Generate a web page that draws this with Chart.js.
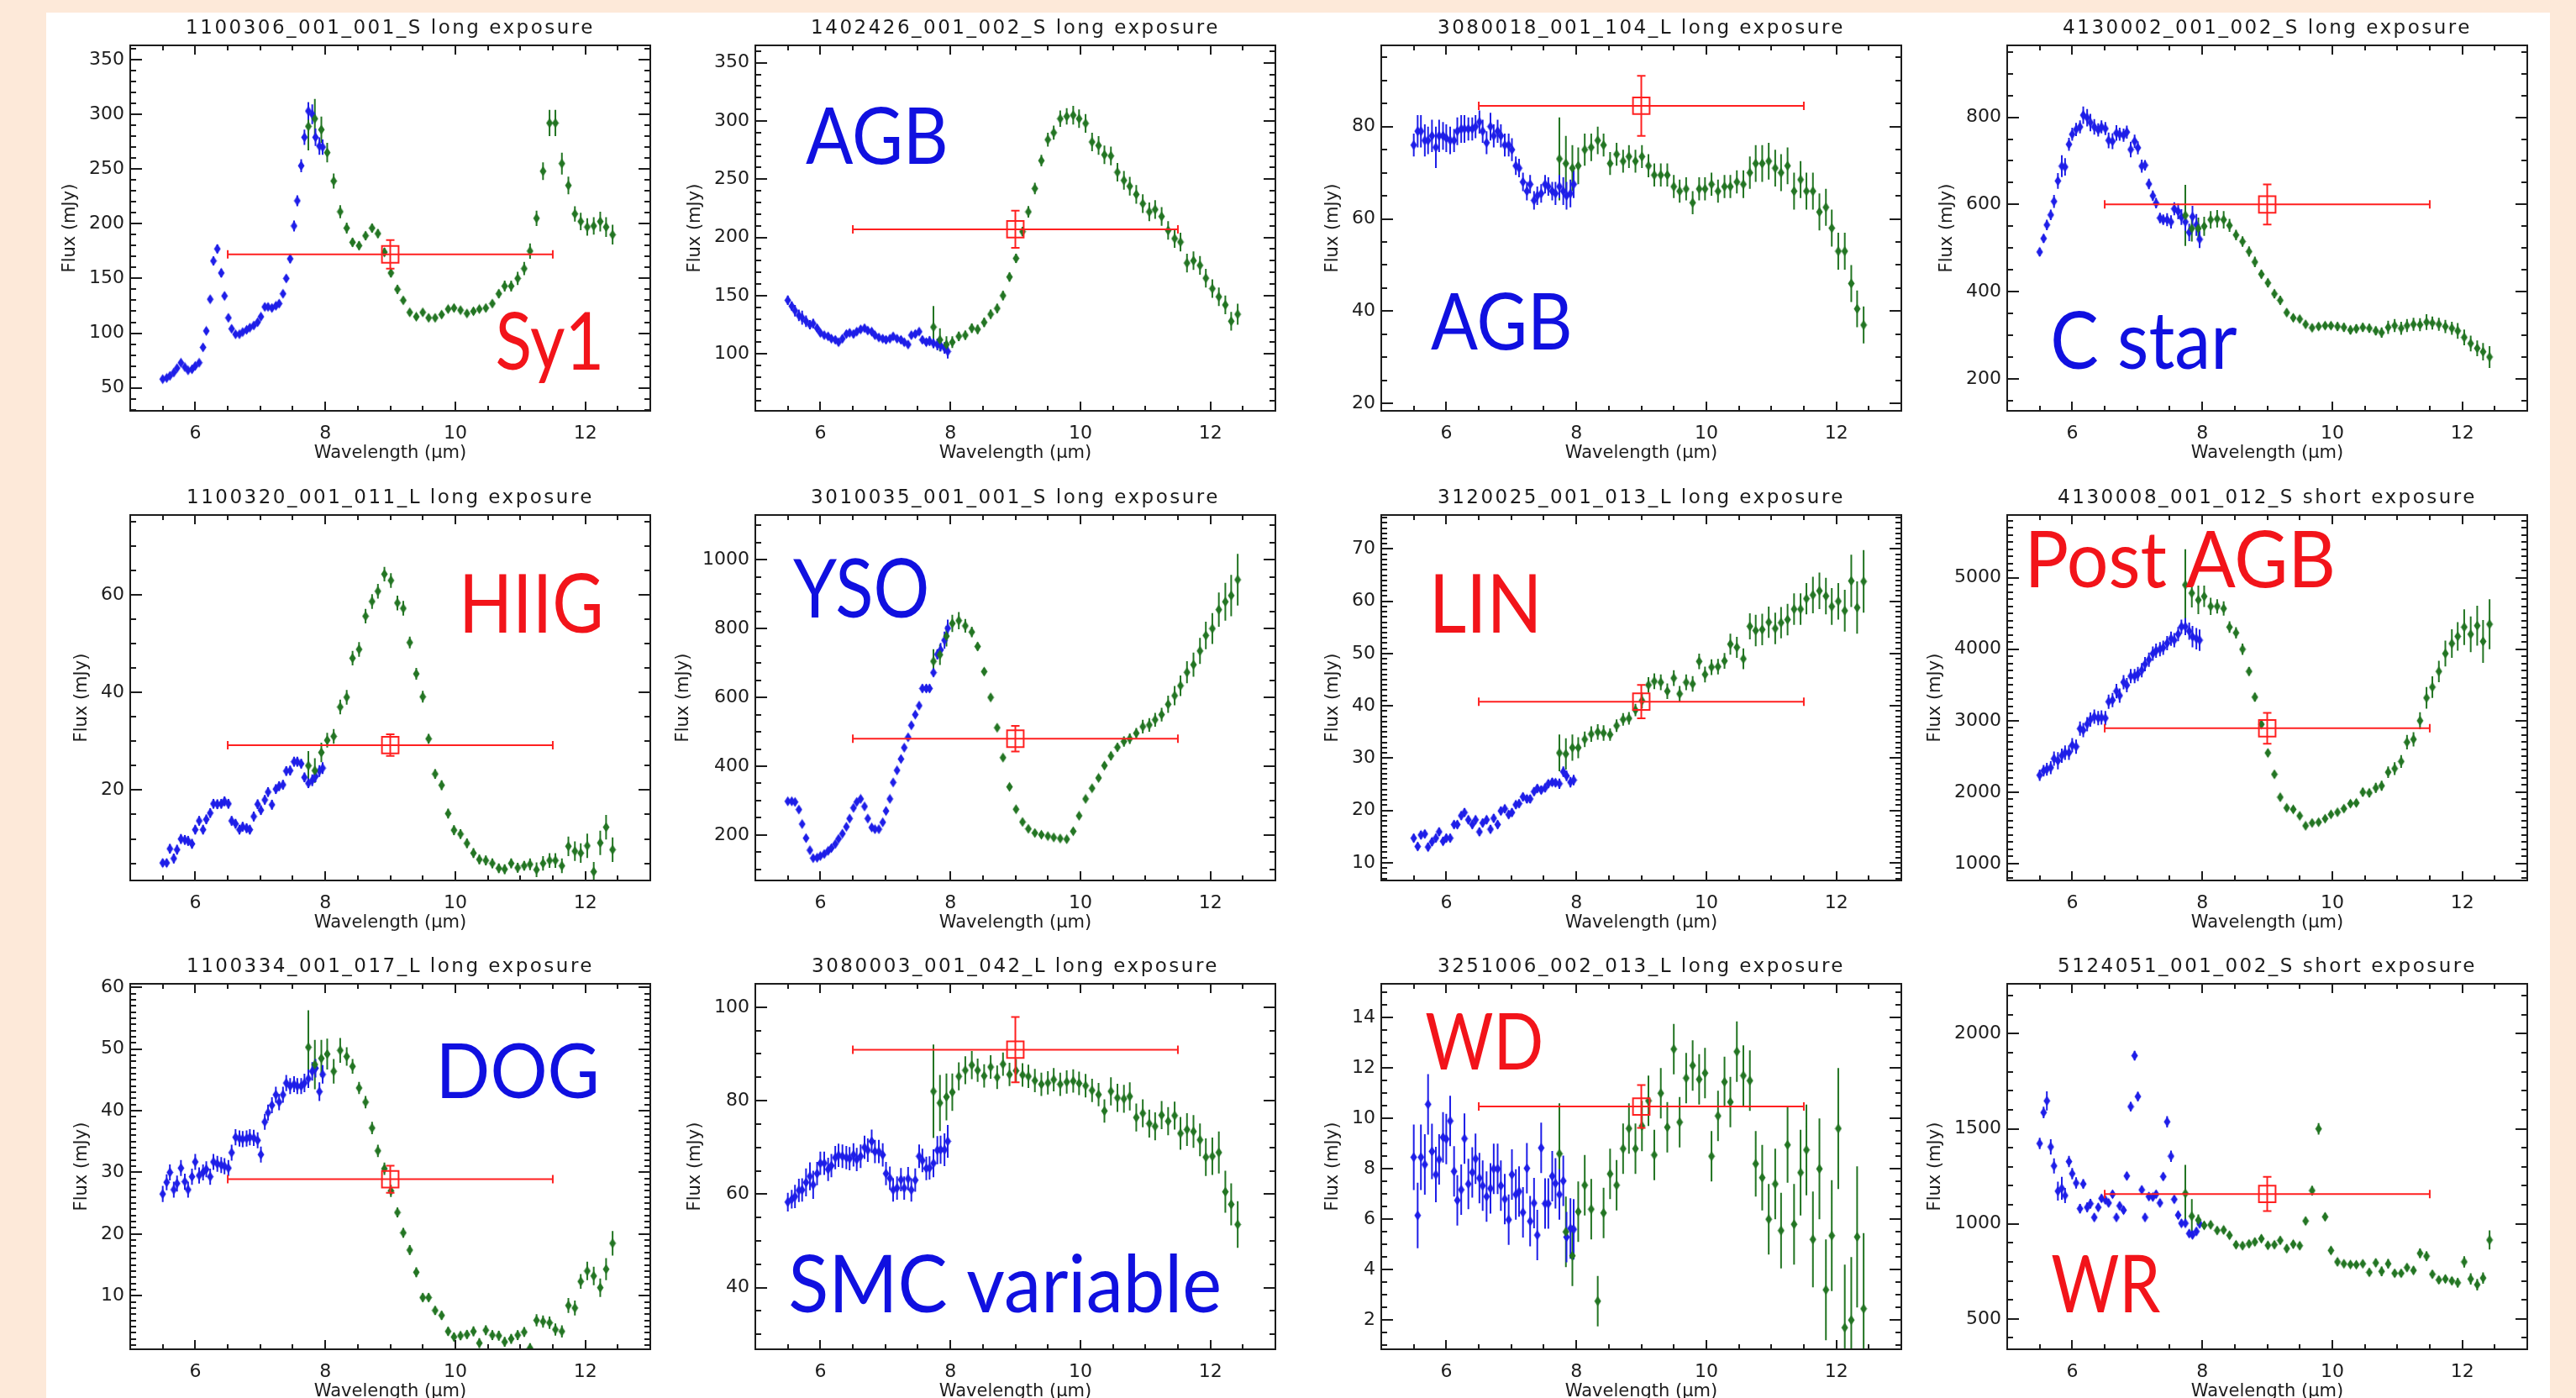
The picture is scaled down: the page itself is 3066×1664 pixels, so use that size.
<!DOCTYPE html>
<html>
<head>
<meta charset="utf-8">
<script src="https://cdn.jsdelivr.net/npm/chart.js@4.4.1/dist/chart.umd.min.js"></script>
<style>
  html, body { margin: 0; padding: 0; }
  body { width: 3066px; height: 1664px; overflow: hidden; background: #fde9d9; position: relative; }
  #sheet { position: absolute; left: 55px; top: 15px; width: 2980px; height: 1660px; background: #fff; }
  canvas { position: absolute; }
</style>
</head>
<body>
<div id="sheet"></div>
<script>
// wavelength sampling (um) of the two spectral segments
const blueX = [5.50, 5.56, 5.61, 5.67, 5.72, 5.78, 5.84, 5.89, 5.95, 6.00,
  6.06, 6.12, 6.17, 6.23, 6.28, 6.34, 6.40, 6.45, 6.51, 6.56,
  6.62, 6.68, 6.73, 6.79, 6.84, 6.90, 6.96, 7.01, 7.07, 7.12,
  7.18, 7.24, 7.29, 7.35, 7.40, 7.46, 7.52, 7.57, 7.63, 7.68,
  7.74, 7.80, 7.85, 7.91, 7.96];
const greenX = [7.74, 7.84, 7.94, 8.03, 8.13, 8.23, 8.33, 8.42, 8.52, 8.62,
  8.72, 8.81, 8.91, 9.01, 9.11, 9.20, 9.30, 9.40, 9.50, 9.59,
  9.69, 9.79, 9.89, 9.98, 10.08, 10.18, 10.28, 10.37, 10.47, 10.57,
  10.67, 10.76, 10.86, 10.96, 11.06, 11.15, 11.25, 11.35, 11.45, 11.54,
  11.64, 11.74, 11.84, 11.93, 12.03, 12.13, 12.23, 12.32, 12.42];
const xTicks = [6, 8, 10, 12];

// photometric point: band centre, band edges
const redX = 9, redXLo = 6.5, redXHi = 11.5;

const titles = [
  '1100306_001_001_S long exposure', '1402426_001_002_S long exposure',
  '3080018_001_104_L long exposure', '4130002_001_002_S long exposure',
  '1100320_001_011_L long exposure', '3010035_001_001_S long exposure',
  '3120025_001_013_L long exposure', '4130008_001_012_S short exposure',
  '1100334_001_017_L long exposure', '3080003_001_042_L long exposure',
  '3251006_002_013_L long exposure', '5124051_001_002_S short exposure'];
const kinds = ['Sy1', 'AGB', 'AGB', 'C star', 'HIIG', 'YSO', 'LIN', 'Post AGB', 'DOG', 'SMC variable', 'WD', 'WR'];
const kindIsRed = [true, false, false, false, true, false, true, true, false, false, true, true];

const redFlux = [172, 207, 84.5, 600, 29.2, 480, 40.8, 2895, 28.9, 90.9, 10.47, 1157];
const redErr = [13, 16, 6.5, 46, 2.2, 37, 3.2, 216, 2.2, 7, 0.85, 90];

const yMins = [29, 51, 18.4, 126.5, 1.5, 68, 6.6, 765, 1.3, 26.8, 0.84, 340];
const yMaxs = [363, 365, 97.6, 965, 76.3, 1130, 76.5, 5878, 60.6, 105, 15.34, 2263];
const yMinorSteps = [10, 10, 5, 50, 5, 50, 1, 100, 1, 5, 0.5, 100];

const yTicks1 = [50, 100, 150, 200, 250, 300, 350];
const yTicks2 = [100, 150, 200, 250, 300, 350];
const yTicks3 = [20, 40, 60, 80];
const yTicks4 = [200, 400, 600, 800];
const yTicks5 = [20, 40, 60];
const yTicks6 = [200, 400, 600, 800, 1000];
const yTicks7 = [10, 20, 30, 40, 50, 60, 70];
const yTicks8 = [1000, 2000, 3000, 4000, 5000];
const yTicks9 = [10, 20, 30, 40, 50, 60];
const yTicks10 = [40, 60, 80, 100];
const yTicks11 = [2, 4, 6, 8, 10, 12, 14];
const yTicks12 = [500, 1000, 1500, 2000];

// ---- Sy1
const blue1 = [58, 59, 61, 64, 68, 73, 69, 66, 67, 70, 73, 87, 102, 131, 166, 177, 155, 134, 114, 104,
  99, 99, 101, 103, 105, 107, 110, 115, 124, 124, 123, 125, 127, 136, 150, 168, 198, 221, 253, 279,
  303, 300, 279, 271, 270];
const blueErr1 = [2, 2, 2, 2, 2, 2, 2, 2, 2, 2, 2, 2, 3, 3, 4, 4, 4, 3, 3, 3,
  2, 2, 2, 2, 2, 2, 2, 2, 3, 3, 3, 3, 3, 3, 3, 4, 5, 5, 6, 7, 8, 9, 8, 8, 7];
const green1 = [289, 296, 286, 265, 239, 211, 196, 183, 180, 189, 196, 191, 174, 155, 140, 130, 119, 115, 119, 114,
  114, 117, 122, 123, 121, 118, 120, 122, 123, 127, 136, 143, 143, 150, 159, 175, 205, 248, 292, 292,
  255, 235, 209, 202, 197, 198, 202, 197, 190];
const greenErr1 = [22, 18, 12, 9, 7, 6, 5, 4, 4, 4, 4, 4, 4, 4, 4, 3, 3, 3, 3, 3,
  3, 3, 3, 3, 3, 3, 3, 3, 3, 3, 4, 5, 5, 6, 6, 7, 7, 8, 12, 12, 10, 8, 7, 8, 8, 8, 9, 9, 9];

// ---- AGB (1402426)
const blue2 = [146, 141, 137, 133, 131, 128, 125, 126, 122, 118, 116, 115, 113, 112, 110, 113, 117, 118, 117, 119,
  121, 122, 120, 119, 116, 114, 113, 112, 113, 115, 113, 112, 110, 108, 116, 117, 119, 112, 110, 111,
  109, 108, 107, 105, 102];
const blueErr2 = [4, 4, 5, 5, 6, 5, 4, 4, 3, 3, 3, 3, 3, 3, 3, 3, 3, 3, 3, 3,
  3, 3, 3, 3, 3, 3, 3, 3, 3, 3, 3, 3, 3, 3, 3, 3, 3, 3, 3, 4, 4, 5, 5, 5, 6];
const green2 = [123, 112, 108, 110, 115, 116, 122, 121, 127, 134, 139, 150, 166, 182, 205, 222, 242, 266, 284, 290,
  302, 304, 305, 302, 298, 282, 279, 271, 270, 256, 249, 244, 237, 229, 222, 224, 218, 206, 199, 196,
  178, 180, 176, 165, 156, 149, 142, 128, 134];
const greenErr2 = [18, 10, 7, 5, 4, 4, 4, 4, 4, 4, 4, 4, 4, 4, 4, 5, 5, 5, 6, 6,
  7, 7, 8, 8, 8, 8, 8, 8, 8, 8, 8, 8, 8, 8, 8, 8, 8, 8, 8, 8, 8, 8, 8, 8, 8, 8, 8, 8, 9];

// ---- AGB (3080018)
const blue3 = [76, 79, 79, 77, 77, 78, 75.5, 78, 78, 77.5, 77, 77, 79, 79.5, 79.5, 79.5, 79.5, 80, 81, 79,
  76.5, 80, 78, 79, 78, 76, 76, 75, 71.5, 71, 68, 66, 67.5, 64, 65, 65.5, 67.5, 67, 66, 65.5,
  67, 66, 65, 65.5, 67.5];
const blueErr3 = [2.5, 3.5, 3.5, 3.5, 3, 3.5, 4.5, 3.5, 3, 3, 3, 2.5, 3, 3, 3, 2.5, 2.5, 2.5, 2.5, 2.5,
  2.5, 3, 2.5, 2.5, 2.5, 2.5, 2.5, 2.5, 2, 2, 2, 2, 2, 2, 2, 2, 2, 2, 2, 2.5, 2.5, 3, 3, 3, 3];
const green3 = [73, 72, 71, 71.5, 75, 75.5, 77, 76, 72, 74, 72.5, 73.5, 72.5, 73.5, 71.5, 69.5, 69.5, 69.5, 67, 66,
  66.5, 63.5, 66.5, 66.5, 67.5, 66, 67, 67, 68, 67.5, 70, 72, 72, 72.5, 71, 70, 71.5, 66, 68.5, 66,
  66, 61.5, 62.5, 58, 53, 53, 46, 40.5, 37];
const greenErr3 = [9, 6, 5, 4, 3.5, 3, 3, 2.5, 2.5, 2.5, 2.5, 2.5, 2.5, 2.5, 2.5, 2.5, 2.5, 2.5, 2.5, 2.5,
  2.5, 2.5, 2.5, 2.5, 2.5, 2.5, 2.5, 2.5, 2.5, 3, 3.5, 4, 4, 4, 4, 4, 4, 4, 4, 4, 4, 4, 4, 4, 4, 4, 4, 4, 4];

// ---- C star
const blue4 = [491, 522, 553, 576, 607, 654, 688, 686, 738, 761, 772, 778, 805, 799, 788, 778, 771, 778, 774, 747,
  745, 764, 761, 759, 766, 726, 745, 730, 688, 690, 647, 620, 603, 569, 565, 565, 560, 590, 584, 571,
  560, 536, 572, 553, 520];
const blueErr4 = [10, 10, 12, 12, 15, 18, 25, 20, 15, 15, 15, 15, 20, 20, 20, 18, 15, 15, 15, 18,
  18, 18, 15, 15, 15, 18, 15, 15, 15, 12, 12, 12, 12, 12, 12, 15, 15, 15, 18, 18, 20, 20, 25, 25, 20];
const green4 = [575, 545, 545, 550, 565, 567, 565, 552, 530, 515, 492, 468, 440, 420, 395, 380, 352, 340, 337, 325,
  317, 320, 322, 322, 320, 318, 312, 315, 318, 316, 310, 306, 318, 322, 316, 322, 325, 324, 330, 328,
  325, 320, 316, 310, 295, 281, 270, 262, 250];
const greenErr4 = [70, 30, 25, 22, 20, 20, 20, 15, 12, 12, 12, 12, 10, 10, 10, 10, 8, 8, 8, 8,
  8, 8, 8, 8, 10, 10, 10, 10, 10, 10, 10, 12, 15, 15, 15, 15, 15, 15, 18, 15, 15, 15, 15, 18, 18, 18, 18, 20, 25];

// ---- HIIG
const blue5 = [5.1, 5.1, 8, 6, 7.8, 10, 9.8, 9.6, 9, 11.9, 13.7, 11.9, 14, 15.3, 17.2, 17.1, 17.2, 17.7, 17.2, 13.7,
  13.1, 11.9, 12.5, 12.2, 11.9, 14.6, 17.1, 15.9, 18, 19.6, 17, 20.2, 20.8, 21.1, 23.9, 24, 25.8, 25.8, 25.4, 22.6,
  21.4, 22, 22.8, 23.9, 24.5];
const blueErr5 = [0.8, 0.8, 1, 1, 1, 1, 1, 1, 1, 1, 1, 1, 1, 1, 1, 1, 1, 1, 1, 1,
  1, 1, 1, 1, 1, 1, 1, 1, 1, 1, 1, 1, 1, 1, 1, 1, 1, 1, 1, 1, 1, 1.2, 1.2, 1.2, 1.2];
const green5 = [25, 24, 27.7, 30.2, 31, 37, 39, 47, 48.8, 55.6, 58.6, 60.7, 64.2, 62.9, 58.3, 57.2, 50.2, 43.8, 39.1, 30.5,
  23.3, 21, 15.2, 11.8, 11, 9.1, 7.1, 5.8, 5.6, 5, 4, 3.8, 5, 4.1, 4.5, 4.8, 3.7, 5, 5.6, 5.6,
  4.5, 8.5, 7.5, 7.1, 8.6, 3.3, 9.2, 12.4, 7.8];
const greenErr5 = [3, 2.5, 2, 1.5, 1.5, 1.5, 1.5, 1.5, 1.5, 1.5, 1.5, 1.5, 1.5, 1.5, 1.5, 1.5, 1.2, 1.2, 1.2, 1,
  1, 1, 1, 1, 1, 1, 1, 1, 1, 1, 1, 1, 1, 1, 1, 1.2, 1.5, 1.5, 1.5, 1.5, 1.5, 2, 2, 2, 2.5, 2, 2.5, 2.5, 2.5];

// ---- YSO
const blue6 = [298, 298, 296, 274, 232, 191, 156, 133, 134, 139, 145, 154, 162, 174, 189, 204, 224, 248, 279, 296,
  305, 283, 248, 222, 217, 217, 237, 270, 305, 353, 388, 421, 454, 484, 519, 550, 576, 626, 626, 626,
  672, 725, 738, 766, 801];
const blueErr6 = [6, 6, 6, 6, 6, 6, 6, 6, 5, 5, 5, 5, 5, 5, 5, 5, 5, 5, 5, 5,
  5, 5, 5, 5, 5, 5, 5, 5, 5, 5, 6, 6, 8, 8, 8, 8, 10, 12, 12, 12, 12, 15, 20, 25, 25];
const green6 = [705, 724, 778, 815, 823, 808, 790, 748, 675, 600, 512, 425, 340, 275, 238, 218, 206, 201, 197, 193,
  190, 188, 211, 256, 305, 336, 366, 402, 430, 455, 472, 480, 496, 515, 520, 535, 550, 580, 605, 634,
  673, 695, 735, 780, 800, 855, 878, 896, 942];
const greenErr6 = [35, 30, 30, 25, 25, 20, 15, 12, 10, 10, 8, 8, 8, 8, 6, 6, 6, 6, 6, 6,
  6, 6, 6, 6, 8, 8, 8, 10, 12, 12, 15, 15, 15, 20, 20, 20, 20, 25, 28, 30, 32, 35, 38, 40, 45, 50, 55, 60, 75];

// ---- LIN
const blue7 = [14.7, 13.1, 15.3, 15.5, 13, 14, 14.7, 15.9, 14.1, 14.7, 14.7, 17.3, 17.3, 19, 19.6, 18.2, 17.3, 18.2, 15.9, 17.6,
  18.2, 16.4, 18.5, 17.3, 19.9, 20.3, 19.2, 19.6, 21.1, 21.3, 22.6, 22.2, 22.2, 23.6, 24.2, 23.9, 24.3, 25.1, 25.4, 25.3,
  25.1, 27.4, 26.6, 25.4, 25.8];
const blueErr7 = [0.8, 0.8, 0.8, 0.8, 0.8, 0.8, 0.8, 0.8, 0.8, 0.8, 0.8, 0.8, 0.8, 0.8, 0.8, 0.8, 0.8, 0.8, 0.8, 0.8,
  0.8, 0.8, 0.8, 0.8, 0.8, 0.8, 0.8, 0.8, 0.8, 0.8, 0.8, 0.8, 0.8, 0.8, 0.8, 0.8, 0.8, 0.8, 0.8, 0.8, 1, 1, 1, 1, 1];
const green7 = [31, 30.8, 32, 32, 33.6, 34.6, 35, 34.8, 34.5, 36.2, 37.4, 37.6, 39.2, 41, 44, 44.7, 44.5, 42.8, 45.3, 42.3,
  44.5, 44.2, 48.5, 46, 47.4, 47.5, 48.6, 51.8, 51.2, 49, 55.2, 54.4, 54.6, 56, 54.8, 55.9, 56.5, 58.5, 58.5, 60.5,
  61.2, 62, 61, 59, 60, 58.2, 63.9, 58.8, 63.8];
const greenErr7 = [3.5, 3, 2.5, 2, 1.5, 1.5, 1.5, 1.5, 1.2, 1.2, 1.2, 1.2, 1.2, 1.5, 1.5, 1.5, 1.5, 1.5, 1.5, 1.5,
  1.5, 1.5, 1.5, 1.5, 1.5, 1.5, 1.5, 2, 2, 2, 2.5, 3, 3, 3, 3, 3, 3, 3, 3, 3, 3.5, 3.5, 3.5, 3.5, 3.5, 4, 5, 5, 6];

// ---- Post AGB
const blue8 = [2238, 2301, 2322, 2343, 2469, 2440, 2511, 2553, 2553, 2658, 2637, 2889, 2868, 2952, 3015, 3057, 3036, 3044, 3036, 3267,
  3288, 3414, 3351, 3539, 3497, 3623, 3623, 3653, 3707, 3791, 3854, 3938, 3980, 4001, 4022, 4085, 4148, 4127, 4211, 4316,
  4316, 4253, 4177, 4148, 4127];
const blueErr8 = [80, 80, 90, 90, 100, 120, 100, 100, 100, 100, 100, 100, 100, 100, 100, 100, 100, 100, 100, 100,
  100, 100, 100, 100, 100, 100, 100, 100, 100, 100, 100, 100, 100, 100, 100, 100, 100, 100, 100, 100, 120, 120, 150, 150, 150];
const green8 = [4900, 4785, 4690, 4740, 4600, 4600, 4570, 4310, 4230, 4000, 3690, 3330, 2950, 2550, 2250, 1930, 1780, 1760, 1670, 1530,
  1570, 1580, 1630, 1690, 1720, 1770, 1840, 1850, 2000, 1990, 2060, 2090, 2280, 2330, 2430, 2700, 2740, 3000, 3320, 3470,
  3690, 3940, 4080, 4180, 4310, 4210, 4330, 4110, 4350];
const greenErr8 = [500, 200, 200, 150, 120, 100, 100, 80, 80, 80, 60, 60, 60, 50, 50, 50, 40, 40, 40, 40,
  40, 40, 40, 40, 40, 40, 50, 50, 60, 60, 70, 70, 80, 90, 90, 100, 100, 120, 150, 150, 150, 180, 200, 200, 250, 250, 280, 300, 350];

// ---- DOG
const blue9 = [26.5, 28.4, 30, 27.2, 28.2, 30.7, 28.5, 27.2, 29.3, 31.7, 29.5, 30, 30.5, 29.3, 31.7, 31.4, 31.2, 31, 30.7, 33.2,
  35.7, 35.5, 35.4, 35.5, 35.7, 35.6, 35.2, 32.9, 38.2, 39.7, 40.9, 42.6, 41.4, 42.6, 44.5, 44, 44.3, 44, 44, 44.5,
  45.2, 46.4, 46.9, 43.1, 45.9];
const blueErr9 = [1.3, 1.3, 1.3, 1.3, 1.3, 1.3, 1.3, 1.3, 1.3, 1.3, 1.3, 1.3, 1.3, 1.3, 1.3, 1.3, 1.3, 1.3, 1.3, 1.3,
  1.3, 1.3, 1.3, 1.3, 1.3, 1.3, 1.3, 1.3, 1.3, 1.3, 1.3, 1.3, 1.3, 1.3, 1.3, 1.3, 1.3, 1.3, 1.3, 1.5, 1.5, 1.5, 1.5, 1.5, 1.5];
const green9 = [50.3, 47.5, 48.5, 49.2, 46.4, 49.8, 48.8, 47.2, 43.7, 41.4, 37.2, 33.5, 30.6, 27, 23.5, 20.2, 17.4, 13.8, 9.7, 9.7,
  7.6, 6.8, 4.2, 3.3, 3.5, 3.7, 4.2, 2.3, 4.4, 3.6, 3.5, 2.5, 3, 3.6, 4.1, 1.5, 6, 5.8, 5.6, 4.5,
  4.2, 8.4, 8, 12.3, 14, 13.2, 11.3, 14.3, 18.5];
const greenErr9 = [6, 4, 3, 2.5, 2, 2, 1.5, 1.2, 1, 1, 1, 1, 1, 1, 0.8, 0.8, 0.8, 0.8, 0.7, 0.7,
  0.7, 0.7, 0.7, 0.7, 0.7, 0.7, 0.8, 0.8, 0.8, 0.8, 0.8, 0.8, 0.8, 0.8, 0.8, 0.8, 1, 1, 1, 1, 1, 1.2, 1.2, 1.2, 1.5, 1.5, 1.5, 1.8, 2];

// ---- SMC variable
const blue10 = [58.3, 58.9, 59.5, 60.8, 60.9, 62.5, 63.8, 62, 64.4, 66.6, 66.6, 65.3, 66.1, 67.8, 68.3, 68.1, 67.8, 67.6, 68.4, 67.4,
  68.1, 70, 69.4, 71.3, 69.1, 69.1, 68.4, 64.4, 63.4, 60.9, 61.3, 63.1, 61.3, 63.3, 60.9, 63, 68.1, 67.2, 65.5, 65.6,
  66.6, 69.4, 69.5, 69.5, 71.3];
const blueErr10 = [2, 2, 2.5, 2.5, 2.5, 3, 3, 3, 2.5, 2.5, 2.5, 2.5, 2.5, 2.5, 2.5, 2.5, 2.5, 2.5, 2.5, 2.5,
  2.5, 2.5, 2.5, 2.5, 2.5, 2.5, 2.5, 2.5, 2.5, 2.5, 2.5, 2.5, 2.5, 2.5, 2.5, 2.5, 2.5, 2.5, 2.5, 2.5, 3, 3, 3, 3.5, 3.5];
const green10 = [82, 79.5, 80.8, 81.8, 85.2, 86.5, 87.6, 86.5, 85.3, 87.2, 85, 87.8, 85.6, 86.4, 85.5, 85.2, 84.3, 83.5, 83.8, 84.5,
  83.5, 84, 84.2, 83.7, 83.2, 82.2, 81.3, 77.8, 82, 80.6, 80.4, 80.9, 76.4, 77.3, 75.1, 74.5, 76.9, 75.6, 76.8, 73,
  73.8, 73.4, 71.6, 67.9, 68.1, 68.9, 60.5, 57.8, 53.5];
const greenErr10 = [10, 6, 5, 4, 3, 3, 3, 2.5, 2.5, 2.5, 2.5, 2.5, 2.5, 2.5, 2.5, 2.5, 2.5, 2.5, 2.5, 2.5,
  2.5, 2.5, 2.5, 2.5, 2.5, 2.5, 2.5, 2.5, 3, 3, 3, 3, 3, 3, 3, 3, 3, 3, 3, 3.5, 3.5, 3.5, 3.5, 4, 4, 4.5, 4.5, 4.5, 5];

// ---- WD
const blue11 = [8.46, 6.15, 8.46, 8.17, 10.56, 8.69, 7.77, 8.37, 9.25, 9.18, 9.9, 7.9, 6.75, 7.17, 9.2, 7.4, 7.86, 8.4, 7.63, 7.33,
  6.9, 7.22, 8, 8, 7.33, 6.8, 5.98, 7.77, 6.98, 7.1, 6.27, 8.02, 5.92, 6.64, 5.37, 8.83, 6.62, 6.62, 7.71, 7.42,
  6.98, 7.52, 5.29, 5.63, 5.6];
const blueErr11 = [1.3, 1.3, 1.3, 1.2, 1.2, 1.1, 1.1, 1, 1, 1, 1, 1, 1, 1, 1, 1, 1, 1, 1, 1,
  1, 1, 1, 1, 1, 1, 1, 1, 1, 1, 1, 1, 1, 1, 1, 1, 1, 1, 1, 1, 1, 1, 1, 1.2, 1.2];
const green11 = [8.6, 5.5, 4.55, 6.3, 7.35, 6.4, 2.75, 6.25, 7.8, 7.35, 8.8, 9.6, 8.8, 9.7, 10.7, 8.55, 11, 9.65, 12.75, 9.85,
  11.6, 12.1, 11.55, 11.8, 8.5, 10.1, 11.45, 10.65, 12.65, 11.7, 11.5, 8.2, 7.65, 6, 7.4, 5.55, 8.95, 5.8, 7.85, 8.75,
  5.2, 8, 3.2, 5.35, 9.6, 1.7, 2, 5.3, 2.45];
const greenErr11 = [2, 1.4, 1.2, 1.2, 1.2, 1.2, 1, 1, 1, 1, 1, 1, 1, 1, 1, 1, 1, 1, 1, 1,
  1, 1, 1, 1, 1, 1, 1, 1, 1.2, 1.2, 1.2, 1.3, 1.3, 1.4, 1.4, 1.5, 1.5, 1.6, 1.7, 1.8, 1.9, 2, 2, 2.2, 2.4, 2.5, 2.5, 2.8, 3];

// ---- WR
const blue12 = [1423, 1586, 1647, 1405, 1305, 1172, 1187, 1149, 1328, 1264, 1215, 1080, 1210, 1087, 1106, 1034, 1087, 1134, 1126, 1110,
  1156, 1034, 1095, 1072, 1252, 1617, 1885, 1670, 1179, 1034, 1144, 1141, 1156, 1110, 1249, 1537, 1356, 1129, 1046, 1003,
  1003, 949, 942, 960, 1000];
const blueErr12 = [30, 30, 50, 40, 40, 50, 60, 40, 30, 30, 30, 25, 25, 25, 25, 20, 20, 20, 20, 20,
  20, 20, 20, 20, 20, 25, 25, 25, 20, 20, 20, 20, 20, 20, 20, 30, 30, 20, 20, 20, 20, 20, 20, 20, 20];
const green12 = [1160, 1040, 1020, 992, 995, 965, 968, 940, 890, 885, 895, 905, 922, 887, 890, 913, 870, 893, 885, 1015,
  1175, 1500, 1037, 860, 800, 790, 786, 785, 790, 745, 795, 750, 790, 740, 740, 770, 755, 845, 830, 735,
  705, 710, 700, 690, 800, 710, 680, 715, 915];
const greenErr12 = [150, 90, 30, 20, 20, 20, 20, 20, 20, 20, 20, 20, 20, 20, 20, 20, 20, 20, 20, 20,
  25, 30, 20, 20, 20, 15, 15, 15, 15, 20, 20, 25, 25, 20, 20, 20, 20, 25, 25, 20, 20, 20, 20, 25, 30, 30, 30, 30, 50];

const blues = [blue1, blue2, blue3, blue4, blue5, blue6, blue7, blue8, blue9, blue10, blue11, blue12];
const blueErrs = [blueErr1, blueErr2, blueErr3, blueErr4, blueErr5, blueErr6, blueErr7, blueErr8, blueErr9, blueErr10, blueErr11, blueErr12];
const greens = [green1, green2, green3, green4, green5, green6, green7, green8, green9, green10, green11, green12];
const greenErrs = [greenErr1, greenErr2, greenErr3, greenErr4, greenErr5, greenErr6, greenErr7, greenErr8, greenErr9, greenErr10, greenErr11, greenErr12];
const yTickSets = [yTicks1, yTicks2, yTicks3, yTicks4, yTicks5, yTicks6, yTicks7, yTicks8, yTicks9, yTicks10, yTicks11, yTicks12];

// ---- layout (page pixels)
const colLeft = [155, 899, 1644, 2389];
const rowTop = [54, 613, 1171];
const boxW = 619, boxH = 435;
const padL = 110, padT = 50, padR = 20, padB = 70;
// big class labels: left, right, cap top, baseline
const labelBoxes = [
  [592, 714, 371, 440], [959, 1125, 127, 195], [1703, 1868, 348, 416], [2444, 2662, 370, 439],
  [553, 714, 683, 753], [944, 1103, 665, 735], [1708, 1828, 683, 753], [2417, 2776, 631, 699],
  [526, 709, 1240, 1307], [941, 1451, 1493, 1562], [1697, 1834, 1205, 1273], [2442, 2571, 1493, 1562]];

const INK = '#1c1c1c';
const BLUE = '#1e1ee8';
const GREEN = '#237523';
const RED = '#ff2020';
const LABEL_RED = '#f2141a';
const LABEL_BLUE = '#1010e0';
const FONT = "'DejaVu Sans', 'Liberation Sans', sans-serif";
const LABEL_FONT = "Lato, 'Open Sans', sans-serif";

function diamond(color) {
  const c = document.createElement('canvas');
  c.width = 9; c.height = 13;
  const g = c.getContext('2d');
  g.fillStyle = color;
  g.beginPath();
  g.moveTo(4.5, 0.5); g.lineTo(8.5, 6.5); g.lineTo(4.5, 12.5); g.lineTo(0.5, 6.5);
  g.closePath(); g.fill();
  return c;
}
const blueDiamond = diamond(BLUE);
const greenDiamond = diamond(GREEN);

const measureCtx = document.createElement('canvas').getContext('2d');

const idlFrame = {
  id: 'idlFrame',
  afterInit(chart) {
    // IDL titles are widely spaced
    const tb = chart.titleBlock;
    if (!tb) return;
    const draw = tb.draw.bind(tb);
    tb.draw = area => {
      const c = chart.ctx;
      c.save();
      c.letterSpacing = '2.5px';
      draw(area);
      c.restore();
    };
  },
  beforeDatasetsDraw(chart) {
    const { ctx, chartArea: a } = chart;
    const y = chart.scales.y;
    ctx.save();
    ctx.beginPath();
    ctx.rect(a.left, a.top, a.right - a.left, a.bottom - a.top);
    ctx.clip();
    ctx.lineWidth = 2;
    chart.data.datasets.forEach((ds, i) => {
      if (!ds.errors) return;
      const pts = chart.getDatasetMeta(i).data;
      ctx.strokeStyle = ds.barColor;
      ctx.beginPath();
      pts.forEach((p, j) => {
        const v = ds.data[j].y, e = ds.errors[j] || 0;
        ctx.moveTo(p.x, y.getPixelForValue(v - e));
        ctx.lineTo(p.x, y.getPixelForValue(v + e));
      });
      ctx.stroke();
    });
    ctx.restore();
  },
  afterDatasetsDraw(chart, args, o) {
    const { ctx, chartArea: a } = chart;
    const x = chart.scales.x, y = chart.scales.y;

    // photometric point with band width and error
    const yc = y.getPixelForValue(o.redY);
    const yt = y.getPixelForValue(o.redY + o.redE), yb = y.getPixelForValue(o.redY - o.redE);
    const xl = x.getPixelForValue(redXLo), xr = x.getPixelForValue(redXHi), xc = x.getPixelForValue(redX);
    ctx.save();
    ctx.strokeStyle = RED;
    ctx.lineWidth = 2;
    ctx.beginPath();
    ctx.moveTo(xl, yc); ctx.lineTo(xr, yc);
    ctx.moveTo(xl, yc - 5); ctx.lineTo(xl, yc + 5);
    ctx.moveTo(xr, yc - 5); ctx.lineTo(xr, yc + 5);
    ctx.moveTo(xc, yt); ctx.lineTo(xc, yb);
    ctx.moveTo(xc - 5, yt); ctx.lineTo(xc + 5, yt);
    ctx.moveTo(xc - 5, yb); ctx.lineTo(xc + 5, yb);
    ctx.stroke();

    // class label
    ctx.font = '100px ' + LABEL_FONT;
    const capRatio = ctx.measureText('H').actualBoundingBoxAscent / 100;
    ctx.font = Math.round((o.lBase - o.lTop) / capRatio) + 'px ' + LABEL_FONT;
    ctx.textAlign = 'left';
    ctx.textBaseline = 'alphabetic';
    const m = ctx.measureText(o.label);
    const ink = m.actualBoundingBoxLeft + m.actualBoundingBoxRight;
    ctx.fillStyle = o.labelColor;
    ctx.save();
    ctx.translate(o.lLeft, o.lBase);
    ctx.scale((o.lRight - o.lLeft) / ink, 1);
    ctx.fillText(o.label, m.actualBoundingBoxLeft, 0);
    ctx.restore();

    // box with inward ticks on all four sides
    ctx.strokeStyle = INK;
    ctx.lineWidth = 2;
    ctx.strokeRect(a.left, a.top, a.right - a.left, a.bottom - a.top);
    ctx.beginPath();
    for (let k = 1; ; k++) {
      const v = x.min + k * 0.5;
      if (v >= x.max - 1e-9) break;
      const L = xTicks.some(t => Math.abs(t - v) < 1e-6) ? 11 : 6;
      const X = Math.round(x.getPixelForValue(v));
      ctx.moveTo(X, a.bottom); ctx.lineTo(X, a.bottom - L);
      ctx.moveTo(X, a.top); ctx.lineTo(X, a.top + L);
    }
    const step = o.yMinor;
    const v0 = Math.ceil(y.min / step - 1e-9) * step;
    for (let k = 0; ; k++) {
      const v = v0 + k * step;
      if (v > y.max) break;
      const L = o.yMajor.some(t => Math.abs(t - v) < step * 1e-3) ? 14 : 7;
      const Y = Math.round(y.getPixelForValue(v));
      ctx.moveTo(a.left, Y); ctx.lineTo(a.left + L, Y);
      ctx.moveTo(a.right, Y); ctx.lineTo(a.right - L, Y);
    }
    ctx.stroke();
    ctx.restore();
  }
};

titles.forEach((title, i) => {
  const col = i % 4, row = Math.floor(i / 4);
  const left = colLeft[col] - padL, top = rowTop[row] - padT;
  const cv = document.createElement('canvas');
  cv.width = padL + boxW + padR;
  cv.height = padT + boxH + padB;
  cv.style.left = left + 'px';
  cv.style.top = top + 'px';
  document.body.appendChild(cv);

  const yMajor = yTickSets[i];
  measureCtx.font = '22px ' + FONT;
  const widest = Math.max(...yMajor.map(v => measureCtx.measureText(String(v)).width));
  const lb = labelBoxes[i];

  const blue = blues[i], green = greens[i];
  const nb = Math.min(blueX.length, blue.length), ng = Math.min(greenX.length, green.length);

  new Chart(cv, {
    type: 'scatter',
    data: {
      datasets: [
        {
          data: [{ x: redX, y: redFlux[i] }],
          pointStyle: 'rect', pointRadius: 14, pointBorderWidth: 2,
          pointBorderColor: RED, pointBackgroundColor: 'rgba(0,0,0,0)'
        },
        {
          data: greenX.slice(0, ng).map((x, j) => ({ x, y: green[j] })),
          errors: greenErrs[i], barColor: GREEN,
          pointStyle: greenDiamond, pointRadius: 6
        },
        {
          data: blueX.slice(0, nb).map((x, j) => ({ x, y: blue[j] })),
          errors: blueErrs[i], barColor: BLUE,
          pointStyle: blueDiamond, pointRadius: 6
        }
      ]
    },
    options: {
      responsive: false,
      animation: false,
      devicePixelRatio: 1,
      events: [],
      layout: { padding: { left: 0, top: 0, right: padR, bottom: 0 } },
      plugins: {
        legend: { display: false },
        tooltip: { enabled: false },
        title: {
          display: true, text: title, color: INK, fullSize: false,
          font: { family: FONT, size: 23, weight: 'normal' },
          padding: { top: 16.2, bottom: 6.2 }
        },
        idlFrame: {
          redY: redFlux[i], redE: redErr[i], yMinor: yMinorSteps[i], yMajor,
          label: kinds[i], labelColor: kindIsRed[i] ? LABEL_RED : LABEL_BLUE,
          lLeft: lb[0] - left, lRight: lb[1] - left, lTop: lb[2] - top, lBase: lb[3] - top
        }
      },
      scales: {
        x: {
          type: 'linear', min: 5, max: 13,
          grid: { display: false, drawTicks: false },
          border: { display: false },
          afterBuildTicks: ax => { ax.ticks = xTicks.map(v => ({ value: v })); },
          afterFit: ax => { ax.height = padB; },
          ticks: {
            color: INK, font: { family: FONT, size: 22 }, padding: 14,
            maxRotation: 0, autoSkip: false, callback: v => String(v)
          },
          title: {
            display: true, text: 'Wavelength (μm)', color: INK,
            font: { family: FONT, size: 21 }, padding: { top: 0, bottom: 7 }
          }
        },
        y: {
          type: 'linear', min: yMins[i], max: yMaxs[i],
          grid: { display: false, drawTicks: false },
          border: { display: false },
          afterBuildTicks: ax => { ax.ticks = yMajor.map(v => ({ value: v })); },
          afterFit: ax => { ax.width = padL; },
          ticks: {
            color: INK, font: { family: FONT, size: 22 }, padding: 7,
            autoSkip: false, callback: v => String(v)
          },
          title: {
            display: true, text: 'Flux (mJy)', color: INK,
            font: { family: FONT, size: 21 }, padding: { top: Math.max(0, 67.8 - widest), bottom: 0 }
          }
        }
      }
    },
    plugins: [idlFrame]
  });
});
</script>
</body>
</html>
